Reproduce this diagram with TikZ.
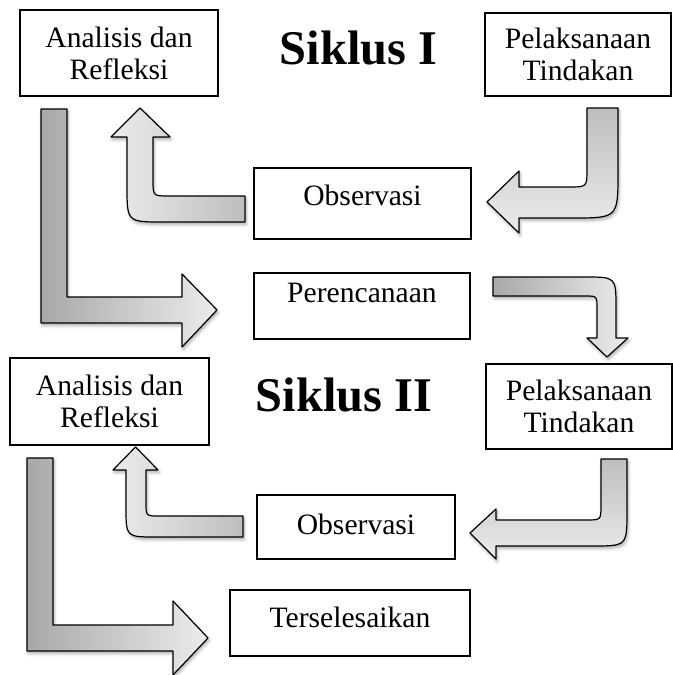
\documentclass[tikz,border=0pt]{standalone}
\usepackage{fontspec}
\setmainfont{Liberation Serif}
\usetikzlibrary{shadows.blur}
\definecolor{arrdark}{RGB}{168,168,168}
\definecolor{arrmid}{RGB}{190,190,190}
\definecolor{arrlight}{RGB}{236,236,236}
\tikzset{
box/.style={draw=black, line width=0.7pt, fill=white, align=center, inner sep=0pt, font=\fontsize{14.8}{16}\selectfont},
cycletitle/.style={inner sep=0pt, font=\fontsize{24.2}{28}\selectfont\bfseries},
blockarrow/.style={draw=black, line width=0.6pt, line join=round, blur shadow={shadow xshift=0.6pt, shadow yshift=-1.2pt, shadow blur radius=1.6pt, shadow opacity=35}},
toright/.style={blockarrow, left color=arrdark, right color=arrlight},
toleft/.style={blockarrow, left color=arrlight, right color=arrmid},
todown/.style={blockarrow, top color=arrmid, bottom color=arrlight}
}
\begin{document}
\begin{tikzpicture}[x=0.5pt, y=-0.5pt]
\useasboundingbox (0,0) rectangle (673,675);
% siklus I arrows
\draw[toright] (41,109) -- (67,109) -- (67,297) -- (182,297) -- (182,274) -- (217,310) -- (182,347) -- (182,323) -- (41,323) -- cycle;
\draw[toleft] (245,222) -- (163,222) .. controls (127,222) .. (127,186) -- (127,137) -- (111,137) -- (140,108) -- (170,137) -- (153,137) -- (153,180) .. controls (153,196) .. (169,196) -- (245,196) -- cycle;
\draw[todown] (587,108) -- (618,108) -- (618,172) .. controls (618,218) .. (572,218) -- (519,218) -- (519,233) -- (487,202) -- (519,171) -- (519,187) -- (569,187) .. controls (587,187) .. (587,169) -- cycle;
\draw[toright] (493,277) -- (585,277) .. controls (616,277) .. (616,308) -- (616,338) -- (628,338) -- (607,357) -- (587,338) -- (597,338) -- (597,308) .. controls (597,296) .. (585,296) -- (493,296) -- cycle;
% siklus II arrows
\draw[toleft] (243,537) -- (156,537) .. controls (126,537) .. (126,507) -- (126,470) -- (113,470) -- (135.5,447) -- (158,470) -- (146,470) -- (146,503) .. controls (146,516) .. (159,516) -- (243,516) -- cycle;
\draw[toright] (27,458) -- (53,458) -- (53,625) -- (173,625) -- (173,601) -- (208,638) -- (173,675) -- (173,651) -- (27,651) -- cycle;
\draw[todown] (601,459) -- (627,459) -- (627,511) .. controls (627,546) .. (592,546) -- (496,546) -- (496,559) -- (470,533) -- (496,509) -- (496,520) -- (586,520) .. controls (601,520) .. (601,505) -- cycle;
% boxes
\node[box, minimum width=99pt, minimum height=43pt] (ana1) at (119,53) {Analisis dan\\Refleksi};
\node[box, minimum width=93pt, minimum height=41.5pt] (pel1) at (578,54.5) {Pelaksanaan\\Tindakan};
\node[box, minimum width=108.5pt, minimum height=35.5pt] (obs1) at (362.5,203.5) {\raisebox{8pt}{Observasi}};
\node[box, minimum width=108pt, minimum height=33pt] (per) at (362,306) {\raisebox{13pt}{Perencanaan}};
\node[box, minimum width=99.5pt, minimum height=43.5pt] (ana2) at (109.5,401.5) {Analisis dan\\Refleksi};
\node[box, minimum width=93pt, minimum height=42.5pt] (pel2) at (579,406.5) {Pelaksanaan\\Tindakan};
\node[box, minimum width=99pt, minimum height=32pt] (obs2) at (356,527) {\raisebox{3pt}{Observasi}};
\node[box, minimum width=120pt, minimum height=33pt] (ter) at (350,623) {\raisebox{5.5pt}{Terselesaikan}};
% titles
\node[cycletitle] (sik1) at (358.5,48.5) {Siklus I};
\node[cycletitle] (sik2) at (344,395) {Siklus II};
\end{tikzpicture}
\end{document}
